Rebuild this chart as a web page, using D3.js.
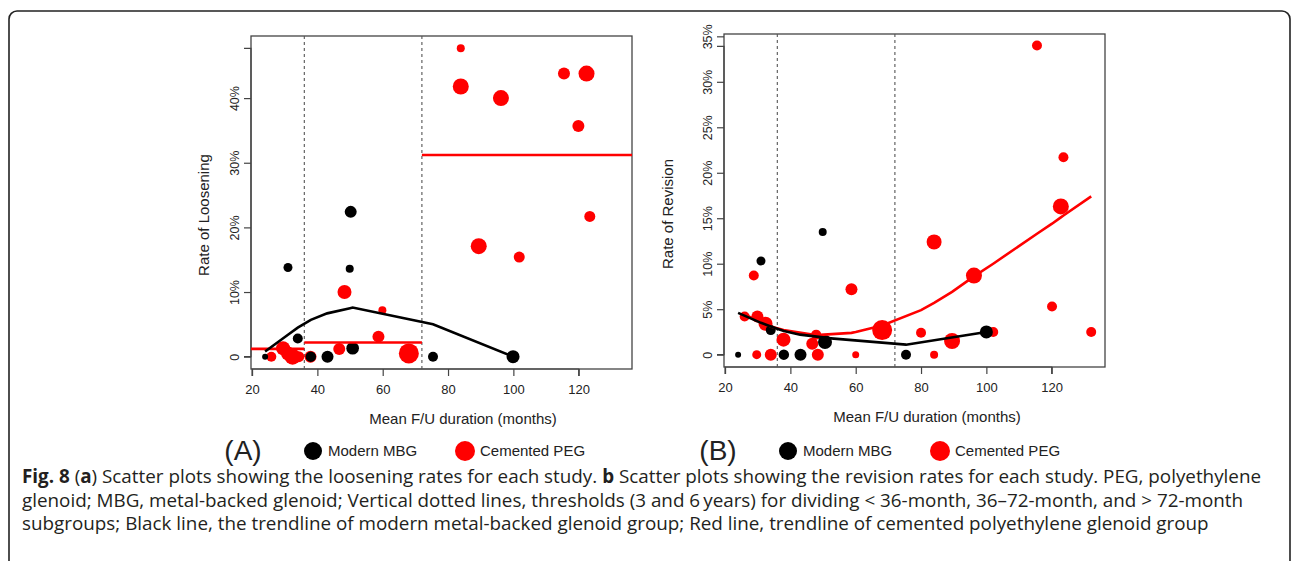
<!DOCTYPE html>
<html lang="en">
<head>
	<meta charset="UTF-8">
	<title>Fig. 8 loosening and revision scatter plots</title>
	<script src="https://d3js.org/d3.v7.min.js"></script>
	<style>
		body { margin: 0; background: #fff; }
		svg { display: block; }
		.chart text { font-family: "Liberation Sans", Arial, sans-serif; fill: #222; }
		.caption text { font-family: "Open Sans", "Noto Sans", sans-serif; fill: #231f20; }
	</style>
</head>
<body>
<div id="chart"></div>
<script>
	// x = mean F/U duration (months), y = rate (%), n = study size (drives dot size)
	const mbgLoosening = [
		{ x: 24, y: 0, n: 36 }, { x: 31, y: 13.8, n: 81 }, { x: 34, y: 2.8, n: 100 },
		{ x: 38, y: 0, n: 110 }, { x: 43.1, y: 0, n: 144 }, { x: 50.2, y: 22.4, n: 144 },
		{ x: 49.9, y: 13.6, n: 64 }, { x: 50.8, y: 1.3, n: 160 }, { x: 75.4, y: 0, n: 100 },
		{ x: 99.9, y: 0, n: 170 }
	];
	const pegLoosening = [
		{ x: 25.9, y: 0, n: 100 }, { x: 29.5, y: 1.3, n: 196 }, { x: 31.0, y: 0.5, n: 196 },
		{ x: 32.4, y: 0, n: 256 }, { x: 34.3, y: 0, n: 121 }, { x: 37.9, y: 0, n: 144 },
		{ x: 46.7, y: 1.2, n: 144 }, { x: 48.3, y: 10.0, n: 196 }, { x: 58.7, y: 3.1, n: 144 },
		{ x: 59.9, y: 7.2, n: 64 }, { x: 68.0, y: 0.5, n: 400 }, { x: 83.9, y: 47.7, n: 64 },
		{ x: 83.9, y: 41.8, n: 256 }, { x: 89.4, y: 17.1, n: 256 }, { x: 96.2, y: 40.0, n: 256 },
		{ x: 101.8, y: 15.4, n: 121 }, { x: 115.5, y: 43.8, n: 144 }, { x: 119.9, y: 35.7, n: 144 },
		{ x: 122.4, y: 43.8, n: 256 }, { x: 123.4, y: 21.7, n: 121 }
	];
	const mbgRevision = [
		{ x: 24, y: 0, n: 36 }, { x: 31, y: 10.3, n: 81 }, { x: 34, y: 2.7, n: 100 },
		{ x: 38, y: 0, n: 110 }, { x: 43.1, y: 0, n: 144 }, { x: 49.9, y: 13.5, n: 64 },
		{ x: 50.6, y: 1.4, n: 196 }, { x: 75.4, y: 0, n: 100 }, { x: 100, y: 2.5, n: 170 }
	];
	const pegRevision = [
		{ x: 26.0, y: 4.2, n: 100 }, { x: 28.8, y: 8.7, n: 100 }, { x: 29.7, y: 0, n: 81 },
		{ x: 29.9, y: 4.2, n: 144 }, { x: 32.4, y: 3.4, n: 196 }, { x: 34.0, y: 0, n: 144 },
		{ x: 37.9, y: 1.65, n: 196 }, { x: 46.7, y: 1.2, n: 144 }, { x: 47.9, y: 2.2, n: 100 },
		{ x: 48.4, y: 0, n: 144 }, { x: 58.7, y: 7.2, n: 144 }, { x: 60.0, y: 0, n: 49 },
		{ x: 68.1, y: 2.7, n: 400 }, { x: 80.0, y: 2.4, n: 100 }, { x: 84.0, y: 12.4, n: 225 },
		{ x: 84.0, y: 0, n: 64 }, { x: 89.5, y: 1.5, n: 256 }, { x: 96.2, y: 8.7, n: 256 },
		{ x: 102.1, y: 2.5, n: 100 }, { x: 115.5, y: 34.0, n: 100 }, { x: 120.1, y: 5.3, n: 100 },
		{ x: 122.8, y: 16.3, n: 256 }, { x: 123.6, y: 21.7, n: 100 }, { x: 132.1, y: 2.5, n: 100 }
	];

	// trendlines
	const mbgTrendLoosening = [
		[24, 0.8], [31, 3.4], [34, 4.5], [38, 5.7], [43, 6.7], [50, 7.5], [50.8, 7.6], [75.4, 5.0], [100, 0]
	];
	const pegStepLoosening = [1.2, 2.2, 31.2]; // mean rate per subgroup
	const mbgTrendRevision = [
		[24, 4.6], [31, 3.5], [34, 3.1], [38, 2.6], [43, 2.2], [50, 1.9], [50.6, 1.85], [75.4, 1.1], [100, 2.5]
	];
	const pegTrendRevision = [
		[26, 4.4], [28.8, 3.95], [29.9, 3.8], [32.4, 3.4], [34, 3.1], [37.9, 2.7], [46.7, 2.2],
		[47.9, 2.15], [58.7, 2.4], [60, 2.5], [68.1, 3.2], [80, 4.9], [84, 5.7], [89.5, 6.9],
		[96.2, 8.6], [102.1, 10.0], [115.5, 13.3], [120.1, 14.4], [122.8, 15.1], [123.6, 15.3], [132.1, 17.4]
	];

	const thresholds = [36, 72];
	const xTicks = [20, 40, 60, 80, 100, 120];
	const yTicksLoosening = [0, 10, 20, 30, 40];
	const yTicksRevision = [0, 5, 10, 15, 20, 25, 30, 35];
	const seriesNames = ["Modern MBG", "Cemented PEG"];
	const captionLines = [
		[["Fig. 8", true], [" (", false], ["a", true], [") Scatter plots showing the loosening rates for each study. ", false], ["b", true], [" Scatter plots showing the revision rates for each study. PEG, polyethylene", false]],
		[["glenoid; MBG, metal-backed glenoid; Vertical dotted lines, thresholds (3 and 6\u2009years) for dividing < 36-month, 36\u201372-month, and > 72-month", false]],
		[["subgroups; Black line, the trendline of modern metal-backed glenoid group; Red line, trendline of cemented polyethylene glenoid group", false]]
	];

	const RED = "#ff0000", BLACK = "#000000";

	const svg = d3.create("svg")
		.attr("width", 1292)
		.attr("height", 561)
		.attr("class", "chart");

	svg.append("rect").attr("width", 1292).attr("height", 561).attr("fill", "#fff");

	// outer figure frame
	svg.append("rect")
		.attr("x", 9).attr("y", 11)
		.attr("width", 1281).attr("height", 620)
		.attr("rx", 8)
		.attr("fill", "none")
		.attr("stroke", "#222")
		.attr("stroke-width", 1.6);

	const rScale = d3.scaleSqrt().domain([0, 400]).range([0, 10]);

	// R style axis extent: data range plus 4% each side
	function padded(lo, hi) {
		const d = (hi - lo) * 0.04;
		return [lo - d, hi + d];
	}

	function drawPanel(p) {
		const g = svg.append("g");
		const x = d3.scaleLinear().domain(padded(24, 132)).range([p.left, p.right]);
		const y = d3.scaleLinear().domain(padded(0, p.yMax)).range([p.bottom, p.top]);

		const clipId = "clip" + p.label;
		svg.append("clipPath").attr("id", clipId)
			.append("rect")
			.attr("x", p.left).attr("y", p.top)
			.attr("width", p.right - p.left).attr("height", p.bottom - p.top);

		// axes
		const xAxis = g.append("g")
			.attr("transform", `translate(0,${p.bottom})`)
			.call(d3.axisBottom(x).tickValues(xTicks).tickSize(7).tickPadding(9).tickFormat(d3.format("d")));
		const yAxis = g.append("g")
			.attr("transform", `translate(${p.left},0)`)
			.call(d3.axisLeft(y).tickValues(p.yTicks).tickSize(7).tickPadding(0)
				.tickFormat(d => d === 0 ? "0" : d + "%"));
		[xAxis, yAxis].forEach(a => {
			a.select(".domain").attr("stroke", "#444").attr("stroke-width", 1.2);
			a.selectAll(".tick line").attr("stroke", "#444").attr("stroke-width", 1.2);
			a.selectAll("text").attr("fill", "#222")
				.style("font-family", "'Liberation Sans', Arial, sans-serif");
		});
		xAxis.selectAll("text").style("font-size", "13px");
		yAxis.selectAll("text").style("font-size", "12.5px");
		xAxis.select(".domain").attr("d", `M${x(20)},7V0H${x(120)}V7`);
		yAxis.select(".domain").attr("d", `M-7,${y(0)}H0V${y(p.yMax)}H-7`);
		yAxis.selectAll(".tick text")
			.attr("x", 0).attr("dy", 0)
			.attr("text-anchor", "middle")
			.attr("transform", "translate(-12,0) rotate(-90)");

		// box
		g.append("rect")
			.attr("x", p.left).attr("y", p.top)
			.attr("width", p.right - p.left).attr("height", p.bottom - p.top)
			.attr("fill", "none").attr("stroke", "#444").attr("stroke-width", 1.3);

		// threshold lines
		g.selectAll(".thr").data(thresholds).join("line")
			.attr("x1", d => x(d)).attr("x2", d => x(d))
			.attr("y1", p.top).attr("y2", p.bottom)
			.attr("stroke", "#555").attr("stroke-width", 1.1)
			.attr("stroke-dasharray", "3,3");

		const plot = g.append("g").attr("clip-path", `url(#${clipId})`);

		plot.selectAll(".peg").data(p.peg).join("circle")
			.attr("cx", d => x(d.x)).attr("cy", d => y(d.y)).attr("r", d => rScale(d.n))
			.attr("fill", RED);
		plot.selectAll(".mbg").data(p.mbg).join("circle")
			.attr("cx", d => x(d.x)).attr("cy", d => y(d.y)).attr("r", d => rScale(d.n))
			.attr("fill", BLACK);

		const line = d3.line().x(d => x(d[0])).y(d => y(d[1]));
		if (p.pegStep) {
			const edges = [x.domain()[0], ...thresholds, x.domain()[1]];
			p.pegStep.forEach((v, i) => {
				plot.append("line")
					.attr("x1", x(edges[i])).attr("x2", x(edges[i + 1]))
					.attr("y1", y(v)).attr("y2", y(v))
					.attr("stroke", RED).attr("stroke-width", 2.6);
			});
		} else {
			plot.append("path").attr("d", line(p.pegTrend))
				.attr("fill", "none").attr("stroke", RED).attr("stroke-width", 2.6);
		}
		plot.append("path").attr("d", line(p.mbgTrend))
			.attr("fill", "none").attr("stroke", BLACK).attr("stroke-width", 2.6);

		// axis titles
		g.append("text")
			.attr("x", p.xTitleX).attr("y", p.bottom + 55)
			.attr("text-anchor", "middle")
			.style("font-size", "15px")
			.text("Mean F/U duration (months)");
		g.append("text")
			.attr("transform", `translate(${p.yTitleX},${p.yTitleY}) rotate(-90)`)
			.attr("text-anchor", "middle")
			.style("font-size", "15px")
			.text(p.yTitle);

		// legend row
		const lg = g.append("g").attr("transform", "translate(0,451)");
		lg.append("text")
			.attr("x", p.legX).attr("y", 9)
			.attr("text-anchor", "middle")
			.style("font-size", "28px")
			.text(`(${p.label})`);
		[BLACK, RED].forEach((c, i) => {
			const cx = p.legX + 70 + i * 152;
			lg.append("circle").attr("cx", cx).attr("cy", 0).attr("r", i ? 10 : 9).attr("fill", c);
			lg.append("text")
				.attr("x", cx + 15).attr("y", 5)
				.style("font-size", "15px")
				.text(seriesNames[i]);
		});
	}

	drawPanel({
		label: "A", left: 251, right: 632, top: 36, bottom: 369, yMax: 47.7,
		yTicks: yTicksLoosening, mbg: mbgLoosening, peg: pegLoosening,
		mbgTrend: mbgTrendLoosening, pegStep: pegStepLoosening,
		yTitle: "Rate of Loosening", yTitleX: 209, yTitleY: 215, xTitleX: 463, legX: 243
	});
	drawPanel({
		label: "B", left: 724, right: 1105, top: 34, bottom: 367, yMax: 33.9,
		yTicks: yTicksRevision, mbg: mbgRevision, peg: pegRevision,
		mbgTrend: mbgTrendRevision, pegTrend: pegTrendRevision,
		yTitle: "Rate of Revision", yTitleX: 673, yTitleY: 214, xTitleX: 927, legX: 718
	});

	document.getElementById("chart").append(svg.node());

	// caption, sized so the first line spans the width it has in the figure
	const cap = svg.append("g").attr("class", "caption");
	const capTexts = captionLines.map((parts, i) => {
		const t = cap.append("text")
			.attr("x", 22).attr("y", 483 + i * 23.5)
			.style("font-size", "16px");
		parts.forEach(([s, bold]) => {
			t.append("tspan").style("font-weight", bold ? "700" : "400").text(s);
		});
		return t;
	});
	const w = capTexts[0].node().getComputedTextLength();
	const fs = w > 0 ? 16 * 1240 / w : 18.7;
	capTexts.forEach(t => t.style("font-size", fs.toFixed(2) + "px"));
</script>
</body>
</html>
